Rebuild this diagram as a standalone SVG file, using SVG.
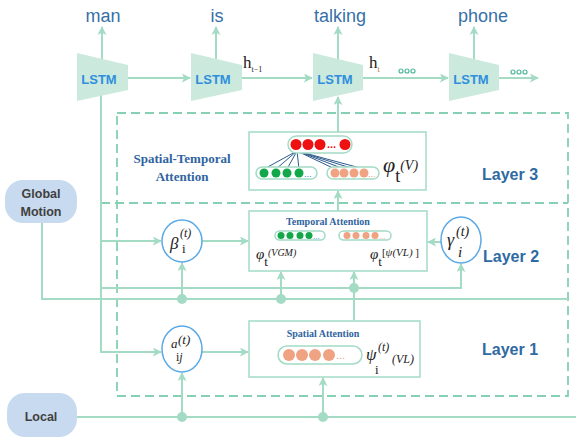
<svg xmlns="http://www.w3.org/2000/svg" width="576" height="439" viewBox="0 0 576 439">
<style>
.ln{stroke:#a3dbc5;stroke-width:2;fill:none}
.dash{stroke:#86d0b3;stroke-width:1.8;fill:none;stroke-dasharray:9 5}
.box{fill:#fff;stroke:#a3dbc5;stroke-width:1.5}
.pill{fill:#fff;stroke:#a3dbc5;stroke-width:1.5}
.lstm{fill:#cbe9dd}
.lt{font-family:"Liberation Sans",Arial,sans-serif;font-weight:bold;font-size:13px;fill:#2f8fdc;text-anchor:middle}
.word{font-family:"Liberation Sans",Arial,sans-serif;font-size:18px;fill:#3670a8;text-anchor:middle}
.layer{font-family:"Liberation Sans",Arial,sans-serif;font-weight:bold;font-size:16px;fill:#2f6aa3}
.src{fill:#c8daf0}
.st{font-family:"Liberation Sans",Arial,sans-serif;font-weight:bold;font-size:12.5px;fill:#404040;text-anchor:middle}
.ttl{font-family:"Liberation Serif","Times New Roman",serif;font-weight:bold;fill:#2f64a0;text-anchor:middle}
.m{font-family:"Liberation Serif","Times New Roman",serif;fill:#222}
.i{font-style:italic}
.ci{fill:#fff;stroke:#5ba9e6;stroke-width:1.5}
.dot{fill:#a3dbc5}
.oo{fill:none;stroke:#4fb89a;stroke-width:1.2}
.att{stroke:#2e5b8e;stroke-width:1}
</style>
<defs>
<marker id="ah" viewBox="0 0 10 10" refX="9" refY="5" markerWidth="9" markerHeight="9" markerUnits="userSpaceOnUse" orient="auto"><path d="M0,0 L10,5 L0,10 L2.5,5 z" fill="#a3dbc5"/></marker>
</defs>

<g id="layers">
<path class="dash" d="M117,113 H568 V396 H117 Z"/>
<path class="dash" d="M101,203 H568"/>
</g>

<g id="connectors">
<path class="ln" d="M102,62 V27" marker-end="url(#ah)"/>
<path class="ln" d="M216,62 V27" marker-end="url(#ah)"/>
<path class="ln" d="M338,62 V27" marker-end="url(#ah)"/>
<path class="ln" d="M474,62 V27" marker-end="url(#ah)"/>
<path class="ln" d="M128,78 H190" marker-end="url(#ah)"/>
<path class="ln" d="M242,78 H312" marker-end="url(#ah)"/>
<path class="ln" d="M363,78 H448" marker-end="url(#ah)"/>
<path class="ln" d="M499,78 H538" marker-end="url(#ah)"/>
<path class="ln" d="M101,94 V352 H161" marker-end="url(#ah)"/>
<path class="ln" d="M101,241 H161" marker-end="url(#ah)"/>
<path class="ln" d="M101,288 H461 V264" marker-end="url(#ah)"/>
<path class="ln" d="M42,220 V299 H568"/>
<path class="ln" d="M182,299 V263" marker-end="url(#ah)"/>
<path class="ln" d="M202,241 H248" marker-end="url(#ah)"/>
<path class="ln" d="M441,242 H428" marker-end="url(#ah)"/>
<path class="ln" d="M281,299 V272" marker-end="url(#ah)"/>
<path class="ln" d="M354,320 V272" marker-end="url(#ah)"/>
<path class="ln" d="M338,211 V191" marker-end="url(#ah)"/>
<path class="ln" d="M338,132 V97" marker-end="url(#ah)"/>
<path class="ln" d="M75,417 H576"/>
<path class="ln" d="M182,417 V373" marker-end="url(#ah)"/>
<path class="ln" d="M323,417 V378" marker-end="url(#ah)"/>
<path class="ln" d="M202,352 H248" marker-end="url(#ah)"/>
<circle class="dot" cx="182" cy="299" r="5"/>
<circle class="dot" cx="281" cy="299" r="5"/>
<circle class="dot" cx="354" cy="288" r="5"/>
<circle class="dot" cx="182" cy="417" r="5"/>
<circle class="dot" cx="323" cy="417" r="5"/>
<text class="m" x="243" y="68" font-size="17">h<tspan font-size="8" dy="4">t−1</tspan></text>
<text class="m" x="369" y="68" font-size="17">h<tspan font-size="8" dy="4" fill="#b07030">t</tspan></text>
<circle class="oo" cx="401" cy="71" r="2"/><circle class="oo" cx="407" cy="71" r="2"/><circle class="oo" cx="413" cy="71" r="2"/>
<circle class="oo" cx="513" cy="72" r="2"/><circle class="oo" cx="519" cy="72" r="2"/><circle class="oo" cx="525" cy="72" r="2"/>
</g>

<g id="word-man"><text class="word" x="103" y="22">man</text></g>
<g id="word-is"><text class="word" x="217" y="22">is</text></g>
<g id="word-talking"><text class="word" x="340" y="22">talking</text></g>
<g id="word-phone"><text class="word" x="483" y="22">phone</text></g>

<g id="lstm1"><polygon class="lstm" points="77,53 128,65 128,90 77,101"/><text class="lt" x="99" y="84">LSTM</text></g>
<g id="lstm2"><polygon class="lstm" points="191,53 242,65 242,90 191,101"/><text class="lt" x="213" y="84">LSTM</text></g>
<g id="lstm3"><polygon class="lstm" points="313,53 363,65 363,90 313,101"/><text class="lt" x="335" y="84">LSTM</text></g>
<g id="lstm4"><polygon class="lstm" points="449,53 499,65 499,90 449,101"/><text class="lt" x="471" y="84">LSTM</text></g>

<g id="global-motion">
<rect class="src" x="5" y="180" width="72" height="43" rx="18"/>
<text class="st" x="41" y="198">Global</text>
<text class="st" x="41" y="216">Motion</text>
</g>
<g id="local">
<rect class="src" x="7" y="393" width="70" height="44" rx="18"/>
<text class="st" x="41" y="421">Local</text>
</g>

<g id="label-st"><text class="ttl" x="182" y="163" font-size="13">Spatial-Temporal</text><text class="ttl" x="182" y="181" font-size="13">Attention</text></g>
<g id="layer3-label"><text class="layer" x="482" y="180">Layer 3</text></g>
<g id="layer2-label"><text class="layer" x="483" y="262">Layer 2</text></g>
<g id="layer1-label"><text class="layer" x="482" y="355">Layer 1</text></g>

<g id="st-attention">
<rect class="box" x="249" y="132" width="177" height="58"/>
<line class="att" x1="297" y1="151" x2="264" y2="169"/>
<line class="att" x1="297" y1="151" x2="276" y2="169"/>
<line class="att" x1="297" y1="151" x2="287" y2="169"/>
<line class="att" x1="297" y1="151" x2="299" y2="169"/>
<line class="att" x1="297" y1="151" x2="335" y2="169"/>
<line class="att" x1="297" y1="151" x2="344" y2="169"/>
<line class="att" x1="297" y1="151" x2="354" y2="169"/>
<line class="att" x1="297" y1="151" x2="364" y2="169"/>
<rect class="pill" x="288" y="136" width="64" height="17" rx="8.5"/>
<circle cx="296" cy="144.5" r="5.5" fill="#ee1111"/><circle cx="308" cy="144.5" r="5.5" fill="#ee1111"/><circle cx="320" cy="144.5" r="5.5" fill="#ee1111"/>
<text x="327" y="148" font-family="Liberation Sans, sans-serif" font-size="11" font-weight="bold" fill="#ee1111">...</text>
<circle cx="345" cy="144.5" r="5.5" fill="#ee1111"/>
<rect class="pill" x="256" y="167" width="61" height="12" rx="6"/>
<circle cx="264" cy="173" r="4.5" fill="#12a84a"/><circle cx="276" cy="173" r="4.5" fill="#12a84a"/><circle cx="287" cy="173" r="4.5" fill="#12a84a"/><circle cx="299" cy="173" r="4.5" fill="#12a84a"/>
<text x="304" y="177" font-family="Liberation Sans, sans-serif" font-size="9" fill="#3a7fd0">...</text>
<rect class="pill" x="327" y="167" width="52" height="12" rx="6"/>
<circle cx="335" cy="173" r="4.5" fill="#f0a382"/><circle cx="344" cy="173" r="4.5" fill="#f0a382"/><circle cx="354" cy="173" r="4.5" fill="#f0a382"/><circle cx="364" cy="173" r="4.5" fill="#f0a382"/>
<text x="368" y="177" font-family="Liberation Sans, sans-serif" font-size="9" fill="#f0a382">...</text>
<text class="m" x="383" y="172"><tspan class="i" font-size="22">φ</tspan><tspan font-size="18" dy="10">t</tspan><tspan class="i" font-size="14" dy="-12">(V)</tspan></text>
</g>

<g id="temporal-attention">
<rect class="box" x="249" y="211" width="178" height="60"/>
<text class="ttl" x="328" y="225" font-size="10">Temporal Attention</text>
<rect class="pill" x="275" y="231" width="50" height="9" rx="4.5"/>
<circle cx="281" cy="235.5" r="3.5" fill="#12a84a"/><circle cx="290" cy="235.5" r="3.5" fill="#12a84a"/><circle cx="300" cy="235.5" r="3.5" fill="#12a84a"/><circle cx="309" cy="235.5" r="3.5" fill="#12a84a"/>
<text x="313" y="239" font-family="Liberation Sans, sans-serif" font-size="8" fill="#3a7fd0">...</text>
<rect class="pill" x="339" y="231" width="52" height="9" rx="4.5"/>
<circle cx="347" cy="235.5" r="3.5" fill="#f0a382"/><circle cx="356" cy="235.5" r="3.5" fill="#f0a382"/><circle cx="366" cy="235.5" r="3.5" fill="#f0a382"/><circle cx="375" cy="235.5" r="3.5" fill="#f0a382"/>
<text x="379" y="239" font-family="Liberation Sans, sans-serif" font-size="8" fill="#f0a382">...</text>
<text class="m" x="256" y="259"><tspan class="i" font-size="15">φ</tspan><tspan font-size="13" dy="7">t</tspan><tspan class="i" font-size="10" dy="-10">(VGM)</tspan></text>
<text class="m" x="370" y="259"><tspan class="i" font-size="15">φ</tspan><tspan font-size="13" dy="7">t</tspan><tspan font-size="11" dy="-10">[</tspan><tspan class="i" font-size="11">ψ(VL)</tspan><tspan font-size="11"> ]</tspan></text>
</g>

<g id="spatial-attention">
<rect class="box" x="249" y="321" width="171" height="56"/>
<text class="ttl" x="323" y="337" font-size="10">Spatial Attention</text>
<rect class="pill" x="278" y="346" width="84" height="18" rx="9"/>
<circle cx="289" cy="355" r="6" fill="#f0a382"/><circle cx="302" cy="355" r="6" fill="#f0a382"/><circle cx="315" cy="355" r="6" fill="#f0a382"/><circle cx="329" cy="355" r="6" fill="#f0a382"/>
<text x="336" y="359" font-family="Liberation Sans, sans-serif" font-size="11" fill="#f0a382">...</text>
<text class="m i" x="366" y="360" font-size="17">ψ</text>
<text class="m i" x="378" y="351" font-size="12">(t)</text>
<text class="m" x="375" y="374" font-size="13">i</text>
<text class="m i" x="392" y="363" font-size="12">(VL)</text>
</g>

<g id="beta">
<ellipse class="ci" cx="182" cy="241" rx="20" ry="21"/>
<text class="m i" x="170" y="249" font-size="17">β</text>
<text class="m i" x="180" y="237" font-size="12">(t)</text>
<text class="m" x="182" y="253" font-size="13">i</text>
</g>
<g id="gamma">
<ellipse class="ci" cx="461" cy="240" rx="20" ry="23"/>
<text class="m i" x="447" y="246" font-size="18">γ</text>
<text class="m i" x="456" y="236" font-size="14">(t)</text>
<text class="m i" x="458" y="257" font-size="15">i</text>
</g>
<g id="alpha">
<ellipse class="ci" cx="182" cy="349" rx="20" ry="23"/>
<text class="m i" x="171" y="348" font-size="13">a</text>
<text class="m i" x="178" y="344" font-size="13">(t)</text>
<text class="m" x="176" y="361" font-size="12">i<tspan class="i">j</tspan></text>
</g>
</svg>
